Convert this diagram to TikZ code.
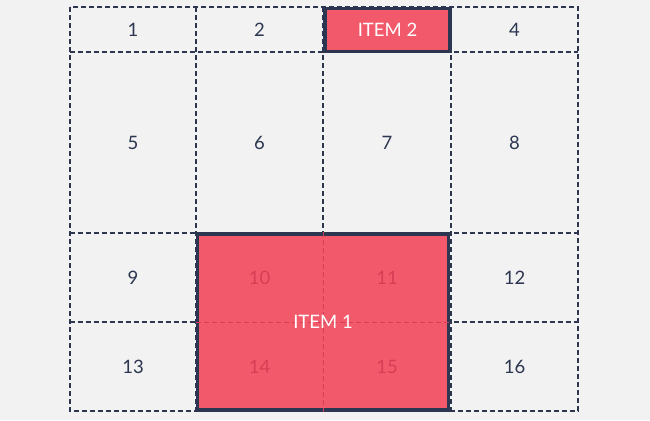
\documentclass[tikz,border=0pt]{standalone}
\usepackage{fontspec}
\setmainfont{Lato}
\usepackage{xcolor}
\definecolor{bgcol}{HTML}{F2F2F2}
\definecolor{navy}{HTML}{2C3650}
\definecolor{itemred}{HTML}{F25A6B}
\definecolor{darkred}{HTML}{D63E55}
\usetikzlibrary{positioning}

\tikzset{
    gridline/.style={navy, line width=1.2pt, dash pattern=on 5pt off 3pt},
    innerline/.style={darkred, line width=0.9pt, dash pattern=on 5pt off 3pt},
    cell/.style={text=navy, font=\fontsize{18.5}{22}\selectfont},
    undercell/.style={text=darkred, font=\fontsize{18.5}{22}\selectfont},
    itembox/.style={draw=navy, fill=itemred, line width=3.2pt, text=white,
        inner sep=0pt, font=\fontsize{18.5}{22}\selectfont}
}

\begin{document}
\begin{tikzpicture}[x=1pt,y=-1pt]
        \fill[bgcol] (0,0) rectangle (650,420);
        \useasboundingbox (0,0) rectangle (650,420);

        %grid
        \draw[gridline] (70,7) rectangle (578,411);
        \draw[gridline] (196,7)--(196,411);
        \draw[gridline] (323,7)--(323,411);
        \draw[gridline] (451,7)--(451,411);
        \draw[gridline] (70,52)--(578,52);
        \draw[gridline] (70,233)--(578,233);
        \draw[gridline] (70,322)--(578,322);

        %row 1
        \node[cell] (c1) at(133,29.5) {1};
        \node[cell] (c2) at(259.5,29.5) {2};
        \node[cell] (c4) at(514.5,29.5) {4};
        \node[itembox, minimum width=125, minimum height=43] (item2) at(387.5,30) {ITEM 2};

        %row 2
        \node[cell] (c5) at(133,142.5) {5};
        \node[cell] (c6) at(259.5,142.5) {6};
        \node[cell] (c7) at(387,142.5) {7};
        \node[cell] (c8) at(514.5,142.5) {8};

        %rows 3 and 4
        \node[cell] (c9) at(133,277.5) {9};
        \node[cell] (c12) at(514.5,277.5) {12};
        \node[cell] (c13) at(133,366.5) {13};
        \node[cell] (c16) at(514.5,366.5) {16};

        %item 1
        \node[itembox, minimum width=251, minimum height=176] (item1) at(323,322) {};
        \draw[innerline] (item1.north) -- (item1.south);
        \draw[innerline] (item1.west) -- (item1.east);
        \node[undercell] (c10) at(259.5,277.5) {10};
        \node[undercell] (c11) at(387,277.5) {11};
        \node[undercell] (c14) at(259.5,366.5) {14};
        \node[undercell] (c15) at(387,366.5) {15};
        \node[text=white, font=\fontsize{18.5}{22}\selectfont] (label1) at(item1.center) {ITEM 1};
\end{tikzpicture}
\end{document}
